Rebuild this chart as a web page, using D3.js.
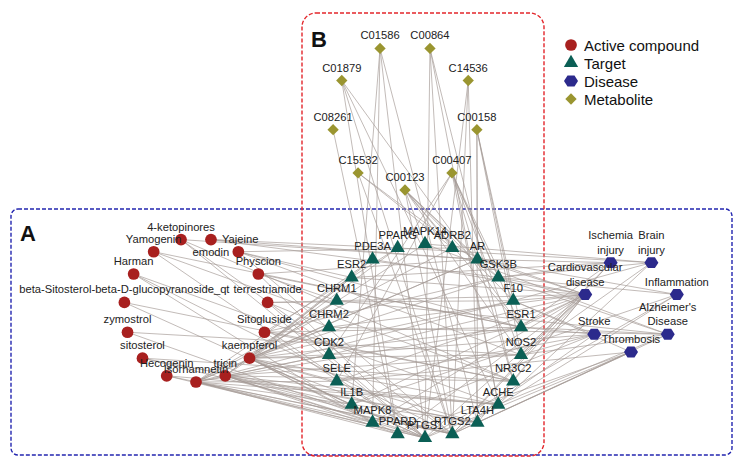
<!DOCTYPE html>
<html><head><meta charset="utf-8">
<script src="https://cdn.jsdelivr.net/npm/d3@7"></script>
<style>
html,body{margin:0;padding:0;background:#fff;}
svg{display:block;font-family:"Liberation Sans",Arial,sans-serif;}
</style></head>
<body><svg id="chart" width="746" height="466"></svg>
<script>
// ---------------- DATA ----------------
// Active compounds, clockwise from the top (Yajeine) around their ring
const compounds = ["Yajeine","emodin","Physcion","terrestriamide","Sitogluside","kaempferol","tricin",
  "Isorhamnetin","Hecogenin","sitosterol","zymostrol","beta-Sitosterol-beta-D-glucopyranoside_qt",
  "Harman","Yamogenin","4-ketopinores"];
// Targets, clockwise from the top (MAPK14)
const targets = ["MAPK14","ADRB2","AR","GSK3B","F10","ESR1","NOS2","NR3C2","ACHE","LTA4H","PTGS2",
  "PTGS1","PPARD","MAPK8","IL1B","SELE","CDK2","CHRM2","CHRM1","ESR2","PDE3A","PPARG"];
// Diseases, clockwise from the bottom (Thrombosis)
const diseases = ["Thrombosis","Stroke","Cardiovascular disease","Ischemia injury","Brain injury",
  "Inflammation","Alzheimer's Disease"];
// Metabolites, clockwise from the bottom (C00123)
const metabolites = ["C00123","C15532","C08261","C01879","C01586","C00864","C14536","C00158","C00407"];

const legendItems = ["Active compound","Target","Disease","Metabolite"];

// Edges (compound -> targets)
const compoundLinks = [
  ["4-ketopinores",["PTGS1","PTGS2","NR3C2","AR"]],
  ["Yajeine",["AR","GSK3B","PPARG"]],
  ["emodin",["ESR2","PTGS2","ADRB2","NOS2","ESR1"]],
  ["Physcion",["PTGS1","CHRM1","ESR1","AR"]],
  ["terrestriamide",["CHRM1","CHRM2","PTGS1","F10"]],
  ["Sitogluside",["PTGS1","NR3C2","ESR1","PPARG","GSK3B"]],
  ["kaempferol",["PPARG","ESR2","CHRM2","CDK2","SELE","IL1B","MAPK8","PPARD","PTGS1","PTGS2","AR","GSK3B","F10","ESR1","NOS2","ACHE","LTA4H","MAPK14"]],
  ["tricin",["ESR2","CHRM1","CDK2","IL1B","MAPK8","PPARD","PTGS1","PTGS2","NOS2","NR3C2","LTA4H","ACHE","PDE3A"]],
  ["Isorhamnetin",["PDE3A","CHRM1","CHRM2","CDK2","SELE","MAPK8","PPARD","PTGS1","PTGS2","ESR1","AR","F10","ACHE","LTA4H","ADRB2"]],
  ["Hecogenin",["PTGS1","PTGS2","ACHE"]],
  ["sitosterol",["PTGS2","LTA4H","NR3C2"]],
  ["zymostrol",["NOS2","PTGS1"]],
  ["beta-Sitosterol-beta-D-glucopyranoside_qt",["PTGS1","NR3C2"]],
  ["Harman",["ACHE","MAPK8","PTGS2"]],
  ["Yamogenin",["PTGS1","ESR1","NR3C2"]]
];
// Edges (disease -> targets)
const diseaseLinks = [
  ["Cardiovascular disease",["PDE3A","ESR2","CHRM1","CHRM2","CDK2","SELE","IL1B","MAPK8","PPARD","PTGS1","PTGS2","F10","ESR1","NOS2","NR3C2","ADRB2","AR","GSK3B","LTA4H"]],
  ["Ischemia injury",["ESR1","GSK3B","PTGS2","NOS2","ESR2","AR"]],
  ["Brain injury",["GSK3B","F10","NOS2","ACHE","MAPK14","PPARG"]],
  ["Inflammation",["PTGS2","AR","IL1B","GSK3B","PTGS1"]],
  ["Alzheimer's Disease",["ACHE","CHRM1","CHRM2","GSK3B","ESR1","NOS2","MAPK14","PTGS2"]],
  ["Stroke",["NOS2","F10","PTGS2","ESR1","SELE","CDK2","MAPK8"]],
  ["Thrombosis",["F10","PTGS1","PTGS2","SELE","LTA4H","PPARD"]]
];
// Edges (metabolite -> targets)
const metaboliteLinks = [
  ["C01586",["PTGS1","LTA4H","IL1B","MAPK8"]],
  ["C00864",["PTGS1","PTGS2","NR3C2","ACHE"]],
  ["C01879",["PTGS2","ESR1","ACHE","PPARD"]],
  ["C14536",["PTGS1","PTGS2","LTA4H"]],
  ["C08261",["PPARD"]],
  ["C00158",["NOS2","ESR1","AR","LTA4H","F10"]],
  ["C15532",["ADRB2","GSK3B","PTGS2"]],
  ["C00407",["GSK3B","F10","ESR1","NOS2","NR3C2","ACHE","CDK2","SELE"]],
  ["C00123",["AR","GSK3B","F10","ESR1","NOS2","PTGS2","ADRB2","MAPK14"]]
];

// ---------------- LAYOUT ----------------
const svg = d3.select("#chart");
const colors = {compound:"#a8201f", target:"#0b5f55", disease:"#2c2a8c", metabolite:"#9a9530"};

// ring layouts: each group of nodes on a circle, angle given by a linear scale
function ring(names, cx, cy, r, startDeg){
  const ang = d3.scaleLinear().domain([0, names.length]).range([startDeg, startDeg + 360]);
  return names.map((n,i)=>{
    const a = ang(i) * Math.PI/180;
    return {name:n, x:cx + r*Math.cos(a), y:cy + r*Math.sin(a)};
  });
}
const nodes = {};
ring(compounds, 196, 310, 72, -78).forEach(d=>{d.type="compound"; nodes[d.name]=d;});
ring(targets, 425, 341, 97, -90).forEach(d=>{d.type="target"; nodes[d.name]=d;});
ring(diseases, 631, 305, 47, 90).forEach(d=>{d.type="disease"; nodes[d.name]=d;});
ring(metabolites, 405, 117, 73, 90).forEach(d=>{d.type="metabolite"; nodes[d.name]=d;});

// frames
svg.append("rect").attr("x",11).attr("y",209).attr("width",721).attr("height",246)
  .attr("rx",7).attr("fill","none").attr("stroke","#2326b0").attr("stroke-width",1.4).attr("stroke-dasharray","4,2");
svg.append("rect").attr("x",302).attr("y",13).attr("width",242).attr("height",443)
  .attr("rx",14).attr("fill","none").attr("stroke","#e3262b").attr("stroke-width",1.4).attr("stroke-dasharray","4,2");
svg.append("text").attr("x",20).attr("y",241).attr("font-size",22).attr("font-weight","bold").attr("fill","#111").text("A");
svg.append("text").attr("x",311).attr("y",47).attr("font-size",22).attr("font-weight","bold").attr("fill","#111").text("B");

// edges
const links = [];
[compoundLinks, diseaseLinks, metaboliteLinks].forEach(group=>{
  group.forEach(([s, ts])=> ts.forEach(t=> links.push({source:nodes[s], target:nodes[t]})));
});
svg.append("g").selectAll("line").data(links).join("line")
  .attr("x1",d=>d.source.x).attr("y1",d=>d.source.y)
  .attr("x2",d=>d.target.x).attr("y2",d=>d.target.y)
  .attr("stroke","#a49a96").attr("stroke-width",0.75).attr("stroke-opacity",0.9);

// shapes
function hexPath(r){
  const pts = d3.range(6).map(i=>{const a=i*Math.PI/3; return [r*Math.cos(a), r*0.9*Math.sin(a)];});
  return "M"+pts.map(p=>p.join(",")).join("L")+"Z";
}
const shape = {
  compound: d3.symbol().type(d3.symbolCircle).size(108)(),
  target: d3.symbol().type(d3.symbolTriangle).size(88)(),
  disease: hexPath(7),
  metabolite: d3.symbol().type(d3.symbolSquare).size(64)()
};
const nodeList = Object.values(nodes);
svg.append("g").selectAll("path").data(nodeList).join("path")
  .attr("d",d=>shape[d.type])
  .attr("transform",d=>`translate(${d.x},${d.y})` + (d.type==="metabolite"?" rotate(45)":""))
  .attr("fill",d=>colors[d.type]);

// labels
const special = {
  "Yajeine": {dx:11, dy:-1, anchor:"start"},
  "emodin": {dx:-9, dy:0, anchor:"end"}
};
const lab = svg.append("g").attr("font-size",11.2).attr("fill","#222");
nodeList.forEach(d=>{
  const sp = special[d.name];
  if (sp){
    lab.append("text").attr("x",d.x+sp.dx).attr("y",d.y+sp.dy).attr("text-anchor",sp.anchor)
      .attr("dominant-baseline","central").text(d.name);
    return;
  }
  let lines = [d.name];
  if (d.type==="disease" && d.name.includes(" ") && d.name!=="Inflammation"){
    lines = d.name.split(" ");
  }
  lines.forEach((t,i)=>{
    lab.append("text").attr("x",d.x).attr("y",d.y - 13 - (lines.length-1-i)*14.5)
      .attr("text-anchor","middle").attr("dominant-baseline","central").text(t);
  });
});

// legend
const lg = svg.append("g");
const ly = d3.scalePoint().domain(legendItems).range([45, 99]);
const legendTypes = ["compound","target","disease","metabolite"];
legendItems.forEach((name,i)=>{
  const t = legendTypes[i];
  lg.append("path").attr("d",shape[t])
    .attr("transform",`translate(571,${ly(name)})`+(t==="metabolite"?" rotate(45)":""))
    .attr("fill",colors[t]);
  lg.append("text").attr("x",584).attr("y",ly(name)).attr("dominant-baseline","central")
    .attr("font-size",15).attr("fill","#111").text(name);
});
</script></body></html>
